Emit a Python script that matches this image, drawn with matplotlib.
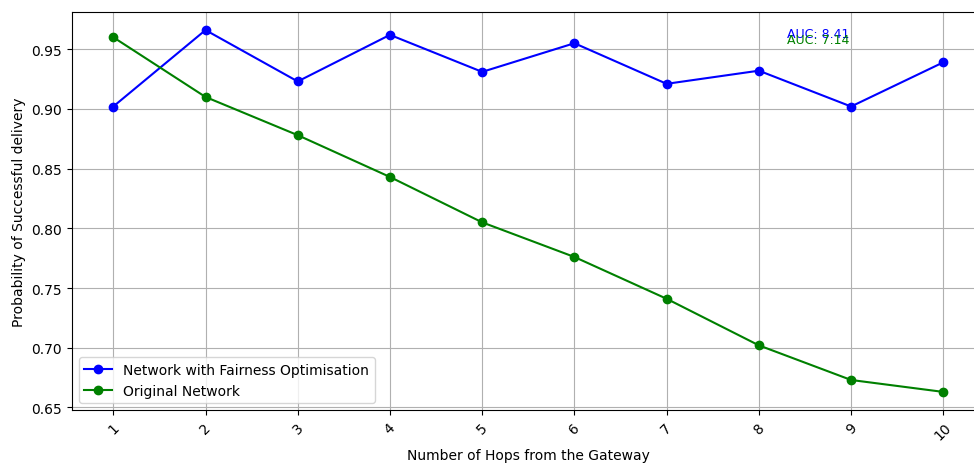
import numpy as np
import matplotlib
matplotlib.use("Agg")
import matplotlib.pyplot as plt

hops = [1, 2, 3, 4, 5, 6, 7, 8, 9, 10]
fair_network = [0.902, 0.966, 0.923, 0.962, 0.931, 0.955, 0.921, 0.932, 0.902, 0.939]
original_network = [0.960, 0.910, 0.878, 0.843, 0.805, 0.776, 0.741, 0.702, 0.673, 0.663]

auc_fair = np.trapezoid(fair_network, hops)
auc_orig = np.trapezoid(original_network, hops)

fig = plt.figure(figsize=(9.74, 4.64), dpi=100)
ax = fig.add_axes([0.0737, 0.1142, 0.9374, 0.8578])

ax.plot(hops, fair_network, marker="o", color="blue",
        label="Network with Fairness Optimisation")
ax.plot(hops, original_network, marker="o", color="green",
        label="Original Network")

ax.text(8.3, 0.96, f"AUC: {auc_fair:.2f}", color="blue", fontsize=9)
ax.text(8.3, 0.955, f"AUC: {auc_orig:.2f}", color="green", fontsize=9)

ax.set_xticks(hops)
ax.set_xticklabels([str(h) for h in hops], rotation=45)
ax.set_xlabel("Number of Hops from the Gateway")
ax.set_ylabel("Probability of Successful delivery")
ax.grid(True)
ax.legend(loc="lower left")

fig.savefig("out.png", dpi=100)
